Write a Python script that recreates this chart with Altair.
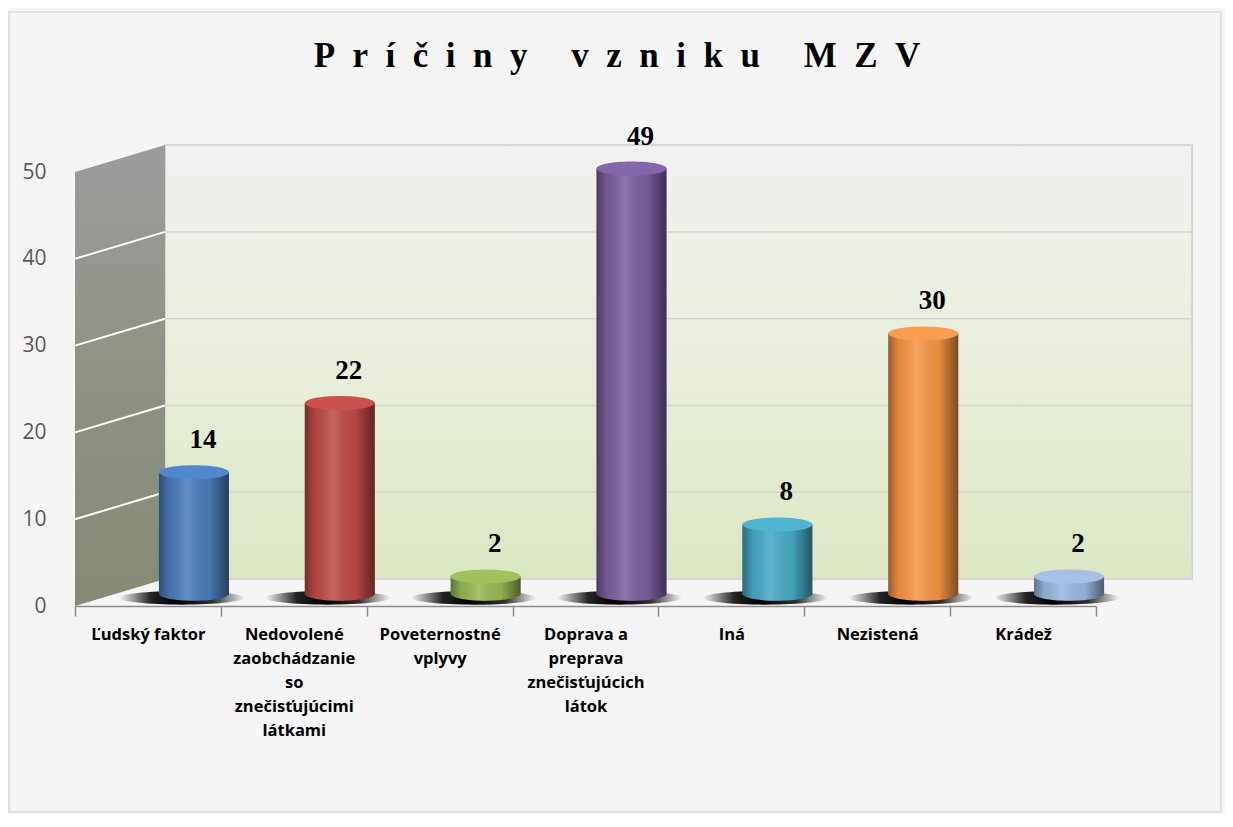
import altair as alt
import pandas as pd

# ---------------- data ----------------
categories = [
    "Ľudský faktor",
    "Nedovolené\nzaobchádzanie\nso\nznečisťujúcimi\nlátkami",
    "Poveternostné\nvplyvy",
    "Doprava a\npreprava\nznečisťujúcich\nlátok",
    "Iná",
    "Nezistená",
    "Krádež",
]
values = [14, 22, 2, 49, 8, 30, 2]
bar_colors = ["#4a7ebb", "#be4b48", "#98b954", "#7d60a0", "#46aac5", "#f79646", "#9bb7e0"]
top_colors = ["#5088cc", "#c9524f", "#a0c25d", "#8467aa", "#4fb4cf", "#fb9d50", "#a6c0e8"]
y_ticks = [0, 10, 20, 30, 40, 50]
grid_values = [10, 20, 30, 40]
title_text = "Príčiny vzniku MZV"

# ---------------- layout constants ----------------
W, H = 1021, 434
BASE = 1.4      # floor level of the cylinders
DEPTH = 3.1     # perspective shift of the back wall (in axis units)
BACK_X0, BACK_X1 = 90, 1117
BAR_W = 70
BAR_SHIFT = 46
PAD = {"left": 67, "top": 164, "right": 129, "bottom": 208}

spaced_title = ("\u00a0" * 5).join(("\u00a0" * 2).join(list(w)) for w in title_text.split(" "))

df = pd.DataFrame({"cat": categories, "val": values, "bar": bar_colors, "top": top_colors})
df["base"] = BASE
df["y_top"] = df["val"] + BASE

grid_df = pd.DataFrame({"v": grid_values})
grid_df["back"] = grid_df["v"] + DEPTH
wall_df = pd.DataFrame({"lo": [DEPTH], "hi": [50 + DEPTH]})
side_df = pd.DataFrame({"sx": [0, 1], "lo": [0, DEPTH], "hi": [50, 50 + DEPTH]})
one_df = pd.DataFrame({"t": [spaced_title]})

# ---------------- encodings ----------------
yscale = alt.Scale(domain=[0, 50], nice=False, zero=False)
yaxis = alt.Axis(values=y_ticks, title=None, grid=False, ticks=False, domain=False,
                 labelFont="Open Sans", labelFontSize=21, labelColor="#595959",
                 labelPadding=29)


def Y(f):
    return alt.Y(f, type="quantitative", scale=yscale, axis=yaxis)


xaxis = alt.Axis(title=None, labelExpr="split(datum.label, '\\n')", labelAngle=0,
                 labelFont="Open Sans", labelFontWeight="bold", labelFontSize=16.5,
                 labelColor="#000000", labelLineHeight=24, labelPadding=10,
                 labelBaseline="top", labelLimit=0,
                 tickBand="extent", tickSize=10, tickColor="#8c8c8c", tickWidth=1.5,
                 domainColor="#8c8c8c", domainWidth=1.5)
xscale = alt.Scale(paddingInner=0, paddingOuter=0)


def X():
    return alt.X("cat:N", sort=categories, scale=xscale, axis=xaxis)


ELL = "M-1,0A1,0.2,0,1,1,1,0A1,0.2,0,1,1,-1,0Z"
SHADOW = "M-1,0A1,0.11,0,1,1,1,0A1,0.11,0,1,1,-1,0Z"

cyl_grad = alt.LinearGradient(
    gradient="linear", x1=0, y1=0, x2=1, y2=0,
    stops=[
        alt.GradientStop(color="rgba(0,0,0,0.38)", offset=0),
        alt.GradientStop(color="rgba(0,0,0,0.08)", offset=0.15),
        alt.GradientStop(color="rgba(255,255,255,0.14)", offset=0.4),
        alt.GradientStop(color="rgba(0,0,0,0.06)", offset=0.72),
        alt.GradientStop(color="rgba(0,0,0,0.5)", offset=1),
    ])
wall_grad = alt.LinearGradient(
    gradient="linear", x1=0, y1=0, x2=0, y2=1,
    stops=[
        alt.GradientStop(color="#f1f1f0", offset=0),
        alt.GradientStop(color="#e7edd9", offset=0.55),
        alt.GradientStop(color="#dbe7c3", offset=1),
    ])
side_grad = alt.LinearGradient(
    gradient="linear", x1=0, y1=0, x2=0, y2=1,
    stops=[
        alt.GradientStop(color="#9c9c9c", offset=0),
        alt.GradientStop(color="#8f9284", offset=0.5),
        alt.GradientStop(color="#868a74", offset=1),
    ])
shadow_grad = alt.LinearGradient(
    gradient="linear", x1=0, y1=0, x2=1, y2=0,
    stops=[
        alt.GradientStop(color="rgba(0,0,0,0)", offset=0),
        alt.GradientStop(color="rgba(0,0,0,0.85)", offset=0.25),
        alt.GradientStop(color="rgba(0,0,0,1)", offset=0.45),
        alt.GradientStop(color="rgba(0,0,0,0.8)", offset=0.75),
        alt.GradientStop(color="rgba(0,0,0,0)", offset=1),
    ])

# ---------------- back layers ----------------
border = alt.Chart(one_df).mark_rect(fillOpacity=0, stroke="#d9d9d9", strokeWidth=1.5).encode(
    x=alt.value(-66), x2=alt.value(W + PAD["right"] - 4),
    y=alt.value(-160), y2=alt.value(H + PAD["bottom"] - 2))
title = alt.Chart(one_df).mark_text(font="Liberation Serif", fontWeight="bold", fontSize=35,
                                    align="center", baseline="alphabetic", color="#000000").encode(
    x=alt.value(617 - 75), y=alt.value(67 - 172), text="t:N")
back_wall = alt.Chart(wall_df).mark_rect(fill=wall_grad, stroke="#d6d6d6", strokeWidth=2).encode(
    x=alt.value(BACK_X0), x2=alt.value(BACK_X1), y=Y("hi"), y2="lo")
back_grid = alt.Chart(grid_df).mark_rule(color="#d3d3d3", strokeWidth=1.5).encode(
    x=alt.value(BACK_X0), x2=alt.value(BACK_X1), y=Y("back"))
back_layer = alt.layer(border, title, back_wall, back_grid)

side_wall = alt.Chart(side_df).mark_area(fill=side_grad).encode(
    x=alt.X("sx:Q", scale=alt.Scale(domain=[0, 1], range=[0, BACK_X0]), axis=None),
    y=Y("hi"), y2="lo")

# ---------------- front layers ----------------
side_grid = alt.Chart(grid_df).mark_rule(color="#ffffff", strokeWidth=2).encode(
    x=alt.value(0), x2=alt.value(BACK_X0), y=Y("v"), y2="back")

base = alt.Chart(df)
shadows = base.mark_point(shape=SHADOW, size=125 ** 2, filled=True, fill=shadow_grad, opacity=1,
                          strokeWidth=0, xOffset=BAR_SHIFT - 12, yOffset=4).encode(
    x=X(), y=Y("base"))
bottom_ell = base.mark_point(shape=ELL, size=BAR_W ** 2, filled=True, opacity=1, strokeWidth=0,
                             xOffset=BAR_SHIFT).encode(
    x=X(), y=Y("base"), fill=alt.Fill("bar:N", scale=None))
bottom_shade = base.mark_point(shape=ELL, size=BAR_W ** 2, filled=True, fill=cyl_grad, opacity=1,
                               strokeWidth=0, xOffset=BAR_SHIFT).encode(x=X(), y=Y("base"))
bars = base.mark_bar(width=BAR_W, xOffset=BAR_SHIFT).encode(
    x=X(), y=Y("y_top"), y2="base", fill=alt.Fill("bar:N", scale=None))
bar_shade = base.mark_bar(width=BAR_W, xOffset=BAR_SHIFT, fill=cyl_grad).encode(
    x=X(), y=Y("y_top"), y2="base")
top_ell = base.mark_point(shape=ELL, size=BAR_W ** 2, filled=True, opacity=1, strokeWidth=0,
                          xOffset=BAR_SHIFT).encode(
    x=X(), y=Y("y_top"), fill=alt.Fill("top:N", scale=None))
labels = base.mark_text(font="Liberation Serif", fontWeight="bold", fontSize=27,
                        baseline="alphabetic", align="center", dx=BAR_SHIFT + 9, dy=-24,
                        color="#000000").encode(x=X(), y=Y("y_top"), text="val:Q")

front_layer = alt.layer(side_grid, shadows, bottom_ell, bottom_shade, bars, bar_shade, top_ell, labels)

chart = alt.layer(back_layer, side_wall, front_layer).resolve_scale(x="independent").properties(
    width=W, height=H,
    padding=PAD,
    autosize=alt.AutoSizeParams(type="none"),
    background="#f5f5f5",
).configure_view(stroke=None)

chart.save("out.html", embed_options={"renderer": "svg", "actions": False})
